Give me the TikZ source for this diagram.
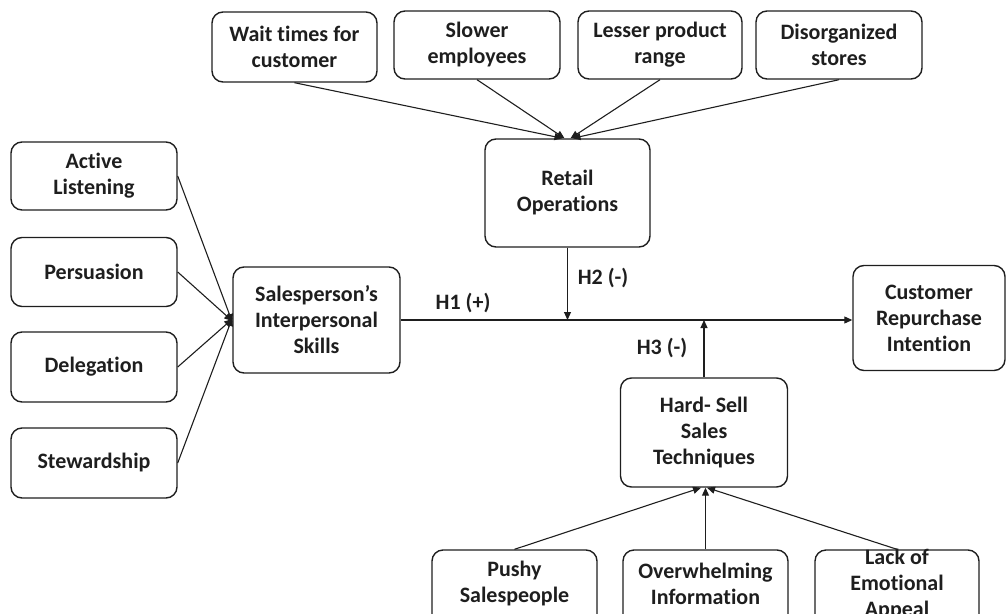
\documentclass[tikz,border=0pt]{standalone}
\usepackage{fontspec}
\setmainfont{Carlito}[Ligatures=NoCommon]
\usetikzlibrary{arrows.meta,calc}
\definecolor{ink}{RGB}{30,30,30}
\tikzset{
  box/.style={draw=ink, line width=1.4pt, rounded corners=11pt, align=center,
    font=\fontsize{22}{26}\selectfont\bfseries, text=ink, inner sep=2pt},
  txt/.style={align=center, font=\fontsize{22}{26}\selectfont\bfseries, text=ink},
  conn/.style={draw=ink, line width=1.1pt, -{Triangle[length=8pt,width=7pt]}},
}
\begin{document}
\begin{tikzpicture}[x=1pt,y=-1pt]
\useasboundingbox (0,0) rectangle (1006,613);
\clip (0,0) rectangle (1006,613);
% top row
\node[box, minimum width=165, minimum height=70] (wait) at (294.5,47) {Wait times for\\customer};
\node[box, minimum width=166, minimum height=68] (slower) at (477,45) {Slower\\employees};
\node[box, minimum width=164, minimum height=68] (lesser) at (660,45) {Lesser product\\range};
\node[box, minimum width=166, minimum height=68] (disorg) at (839,45) {Disorganized\\stores};
\node[box, minimum width=165, minimum height=108] (retail) at (567.5,193) {Retail\\Operations};
% left column
\node[box, minimum width=166, minimum height=68] (active) at (94,176) {Active\\Listening};
\node[box, minimum width=166, minimum height=69] (persu) at (94,272) {Persuasion};
\node[box, minimum width=166, minimum height=70] (deleg) at (94,367) {Delegation};
\node[box, minimum width=166, minimum height=70] (stew) at (94,463) {Stewardship};
\node[box, minimum width=167, minimum height=106] (sales) at (316.5,320) {Salesperson's\\Interpersonal\\Skills};
% right
\node[box, minimum width=152, minimum height=105] (cust) at (929,318) {Customer\\Repurchase\\Intention};
\node[box, minimum width=167, minimum height=109] (hard) at (704,432.5) {Hard- Sell\\Sales\\Techniques};
% bottom row (cut by the page edge)
\node[box, minimum width=165, minimum height=84] (pushy) at (514.5,592) {};
\node[txt] (pushyT) at (514.5,584) {Pushy\\Salespeople};
\node[box, minimum width=165, minimum height=84] (over) at (705.5,592) {};
\node[txt] (overT) at (705.5,584) {Overwhelming\\Information};
\node[box, minimum width=164, minimum height=84] (lack) at (897,592) {};
\node[txt] (lackT) at (897,585) {Lack of\\Emotional\\Appeal};
% connectors to retail
\draw[conn] (wait.south) -- ([xshift=-5pt]retail.north);
\draw[conn] (slower.south) -- ([xshift=-3pt]retail.north);
\draw[conn] (lesser.south) -- ([xshift=3pt]retail.north);
\draw[conn] (disorg.south) -- ([xshift=5pt]retail.north);
% connectors to sales
\draw[conn] (active.east) -- ([yshift=-2pt]sales.west);
\draw[conn] (persu.east) -- ([yshift=-1pt]sales.west);
\draw[conn] (deleg.east) -- ([yshift=1pt]sales.west);
\draw[conn] (stew.east) -- ([yshift=2pt]sales.west);
% main relation
\draw[conn] (sales.east) -- (cust.west |- sales.east);
\coordinate (h2end) at (retail.south |- sales.east);
\coordinate (h3end) at (hard.north |- sales.east);
\draw[conn] (retail.south) -- (h2end);
\draw[conn] (hard.north) -- (h3end);
% connectors to hard sell
\draw[conn] (pushy.north) -- ([xshift=-3pt]hard.south);
\draw[conn] (over.north) -- (over.north |- hard.south);
\draw[conn] (lack.north) -- ([xshift=3pt]hard.south);
% labels
\node[txt] (h1) at (463,303) {H1 (+)};
\node[txt] (h2) at (603,278) {H2 (-)};
\node[txt] (h3) at (662,348) {H3 (-)};
\end{tikzpicture}
\end{document}
